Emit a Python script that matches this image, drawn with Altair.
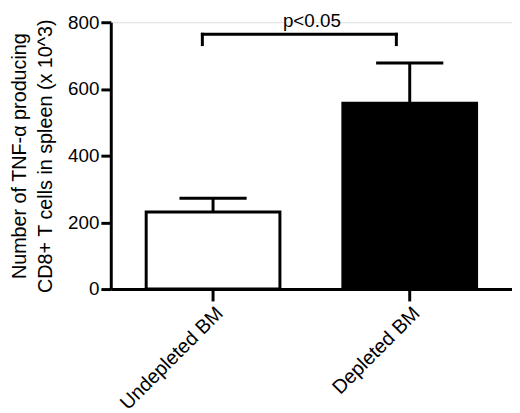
import altair as alt
import pandas as pd

# Data
groups = ["Undepleted BM", "Depleted BM"]
means = [231, 557]
upper = [272, 678]
fills = ["white", "black"]

bracket_y = [764]
bracket_end = [733]
p_label = ["p<0.05"]

y_ticks = [0, 200, 400, 600, 800]

bars_df = pd.DataFrame({"group": groups, "mean": means, "upper": upper, "fill": fills})
br_h = pd.DataFrame({"g1": [groups[0]], "g2": [groups[1]], "y": bracket_y})
br_v = pd.DataFrame({"group": groups, "y": bracket_y * 2, "y2": bracket_end * 2})
p_df = pd.DataFrame({"group": [groups[0]], "y": bracket_y, "label": p_label})

FONT = "Liberation Sans"

x_scale = alt.Scale(domain=groups, paddingInner=0.32, paddingOuter=0.18)
y_scale = alt.Scale(domain=[0, 800], nice=False)

x_enc = alt.X(
    "group:N",
    scale=x_scale,
    sort=groups,
    axis=alt.Axis(
        title=None,
        labelAngle=-45,
        labelFontSize=20,
        labelColor="black",
        labelFont=FONT,
        tickSize=12,
        tickWidth=3,
        tickColor="black",
        domainWidth=3,
        domainColor="black",
        labelPadding=2,
        labelAlign="right",
        labelBaseline="top",
    ),
)
y_enc = alt.Y(
    "mean:Q",
    scale=y_scale,
    axis=alt.Axis(
        values=y_ticks,
        title=["Number of TNF-\u03b1 producing", "CD8+ T cells in spleen (x 10^3)"],
        titleFontSize=20,
        titleFontWeight="normal",
        titleFont=FONT,
        titleColor="black",
        titleLineHeight=27,
        titlePadding=12,
        labelFontSize=19,
        labelFont=FONT,
        labelColor="black",
        labelPadding=2,
        tickSize=10,
        tickWidth=3,
        tickColor="black",
        domainWidth=3,
        domainColor="black",
        grid=False,
    ),
)

bars = alt.Chart(bars_df).mark_bar(stroke="black", strokeWidth=3).encode(
    x=x_enc,
    y=y_enc,
    fill=alt.Fill("fill:N", scale=None),
)

err = alt.Chart(bars_df).mark_rule(color="black", strokeWidth=3).encode(
    x=alt.X("group:N", scale=x_scale, sort=groups, bandPosition=0.5),
    y=alt.Y("mean:Q", scale=y_scale),
    y2="upper:Q",
)

cap = alt.Chart(bars_df).mark_tick(color="black", orient="horizontal", size=68, thickness=3, opacity=1).encode(
    x=alt.X("group:N", scale=x_scale, sort=groups, bandPosition=0.5),
    y=alt.Y("upper:Q", scale=y_scale),
)

bh = alt.Chart(br_h).mark_rule(color="black", strokeWidth=3, strokeCap="square").encode(
    x=alt.X("g1:N", scale=x_scale, sort=groups, bandPosition=0.42),
    x2=alt.X2("g2:N", bandPosition=0.4),
    y=alt.Y("y:Q", scale=y_scale),
)

bv1 = alt.Chart(br_v.iloc[[0]]).mark_rule(color="black", strokeWidth=3, strokeCap="square").encode(
    x=alt.X("group:N", scale=x_scale, sort=groups, bandPosition=0.42),
    y=alt.Y("y:Q", scale=y_scale),
    y2="y2:Q",
)
bv2 = alt.Chart(br_v.iloc[[1]]).mark_rule(color="black", strokeWidth=3, strokeCap="square").encode(
    x=alt.X("group:N", scale=x_scale, sort=groups, bandPosition=0.4),
    y=alt.Y("y:Q", scale=y_scale),
    y2="y2:Q",
)

ptext = alt.Chart(p_df).mark_text(
    font=FONT, fontSize=19, color="black", dx=100, dy=-7, baseline="alphabetic", align="center"
).encode(
    x=alt.X("group:N", scale=x_scale, sort=groups, bandPosition=0.5),
    y=alt.Y("y:Q", scale=y_scale),
    text="label:N",
)

chart = (
    alt.layer(bars, err, cap, bh, bv1, bv2, ptext)
    .properties(
        width=406,
        height=270,
        autosize=alt.AutoSizeParams(type="none"),
        padding={"left": 104, "top": 12, "right": 0, "bottom": 123},
    )
    .configure_view(stroke=None)
    .configure(background="white")
)

chart.save("out.html", embed_options={"renderer": "svg", "actions": False})
